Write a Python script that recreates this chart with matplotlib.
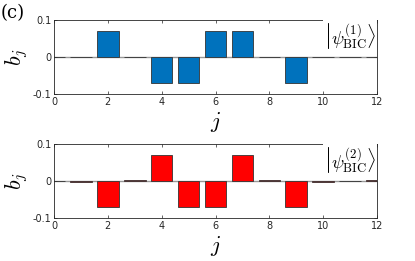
import numpy as np
import matplotlib.pyplot as plt

plt.rcParams['mathtext.fontset'] = 'cm'

j = np.arange(0, 13)
b1 = [0.001, 0.0, 0.07, 0.0, -0.07, -0.07, 0.07, 0.07, 0.0, -0.07, 0.0, 0.001, 0.0]
b2 = [0.0, -0.002, -0.07, 0.002, 0.07, -0.07, -0.07, 0.07, 0.002, -0.07, -0.002, 0.0, 0.003]
xticks = [0, 2, 4, 6, 8, 10, 12]
yticks = [-0.1, 0, 0.1]
yticklabels = ['-0.1', '0', '0.1']

fig = plt.figure(figsize=(4.15, 2.61), dpi=100)
ax1 = fig.add_axes([54 / 415, 1 - 94 / 261, 323 / 415, 74 / 261])
ax2 = fig.add_axes([54 / 415, 1 - 218 / 261, 323 / 415, 74 / 261])

for ax, b, col, lab in [(ax1, b1, '#0072BD', '(1)'), (ax2, b2, '#FF0000', '(2)')]:
    ax.axhline(0, color='#999999', lw=1.0, zorder=1)
    ax.bar(j, b, width=0.8, color=col, edgecolor='#333333', lw=0.6, zorder=2)
    ax.set_xlim(0, 12)
    ax.set_ylim(-0.1, 0.1)
    ax.set_xticks(xticks)
    ax.set_yticks(yticks)
    ax.set_yticklabels(yticklabels)
    ax.tick_params(direction='in', length=2.5, width=0.5, labelsize=7,
                   top=True, right=True, pad=2, colors='#262626')
    for s in ax.spines.values():
        s.set_linewidth(0.6)
        s.set_color('#262626')
    ax.set_xlabel(r'$j$', fontsize=16, labelpad=2)
    ax.set_ylabel(r'$b_j$', fontsize=16, labelpad=2)
    ax.text(0.997, 0.985, r'$\left|\psi_{\rm BIC}^{%s}\right\rangle$' % lab,
            transform=ax.transAxes, ha='right', va='top', fontsize=13,
            bbox=dict(facecolor='white', edgecolor='none', pad=0.5), zorder=5)

fig.text(1 / 415, 1 - 13 / 261, '(c)', fontsize=13, family='DejaVu Serif',
         va='center', ha='left')

fig.savefig('out.png', dpi=100)
